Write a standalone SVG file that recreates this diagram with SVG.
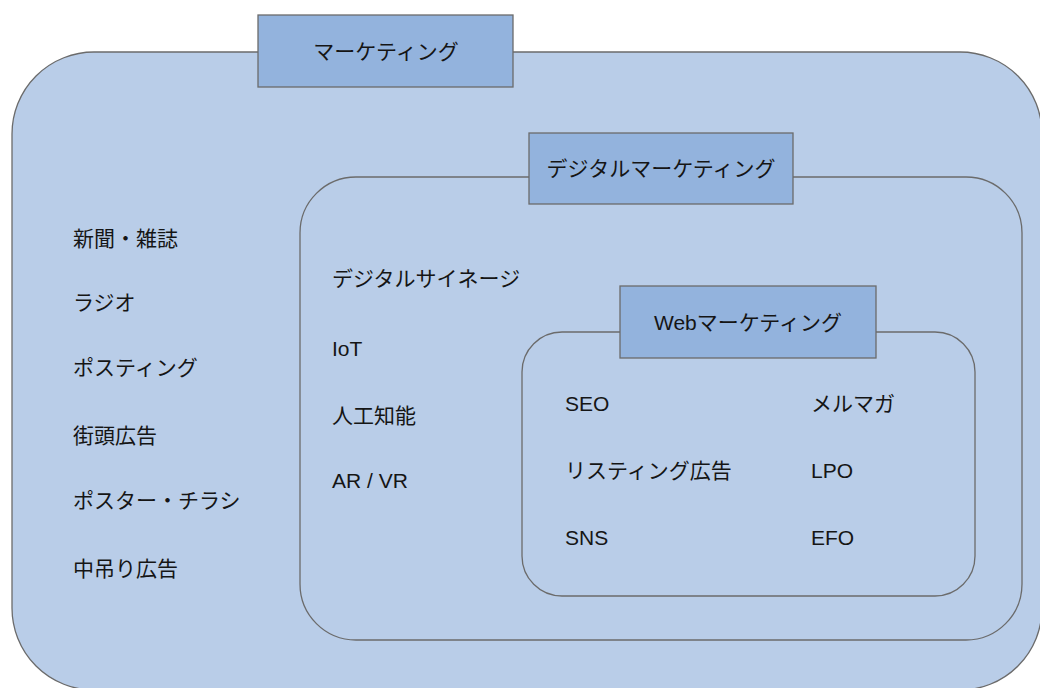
<svg xmlns="http://www.w3.org/2000/svg" width="1040" height="688" viewBox="0 0 1040 688">
<style>
.area{fill:#b9cde8;stroke:#6b6b6b;stroke-width:1.3}
.lbl{fill:#93b3dd;stroke:#6b6b6b;stroke-width:1.3}
text{font-family:"Liberation Sans","Noto Sans CJK JP",sans-serif;font-size:21px;fill:#151515;dominant-baseline:central}
.c{text-anchor:middle}
</style>
<rect width="1040" height="688" fill="#ffffff"/>
<g id="marketing">
<rect class="area" x="12" y="52" width="1030" height="638" rx="82" ry="82"/>
<rect class="lbl" x="258" y="15" width="255" height="72"/>
<text class="c" x="386" y="51">マーケティング</text>
<text x="73" y="238">新聞・雑誌</text>
<text x="73" y="302">ラジオ</text>
<text x="73" y="367">ポスティング</text>
<text x="73" y="435">街頭広告</text>
<text x="73" y="500">ポスター・チラシ</text>
<text x="73" y="568">中吊り広告</text>
</g>
<g id="digital">
<rect class="area" x="300" y="177" width="722" height="463" rx="56" ry="56"/>
<rect class="lbl" x="529" y="133" width="264" height="71"/>
<text class="c" x="661" y="168">デジタルマーケティング</text>
<text x="332" y="278">デジタルサイネージ</text>
<text x="332" y="348">IoT</text>
<text x="332" y="415">人工知能</text>
<text x="332" y="480">AR / VR</text>
</g>
<g id="web">
<rect class="area" x="522" y="332" width="453" height="264" rx="40" ry="40"/>
<rect class="lbl" x="620" y="286" width="256" height="72"/>
<text class="c" x="748" y="322">Webマーケティング</text>
<text x="565" y="403">SEO</text>
<text x="565" y="470">リスティング広告</text>
<text x="565" y="537">SNS</text>
<text x="811" y="403">メルマガ</text>
<text x="811" y="470">LPO</text>
<text x="811" y="537">EFO</text>
</g>
<g id="connectors"></g>
</svg>
